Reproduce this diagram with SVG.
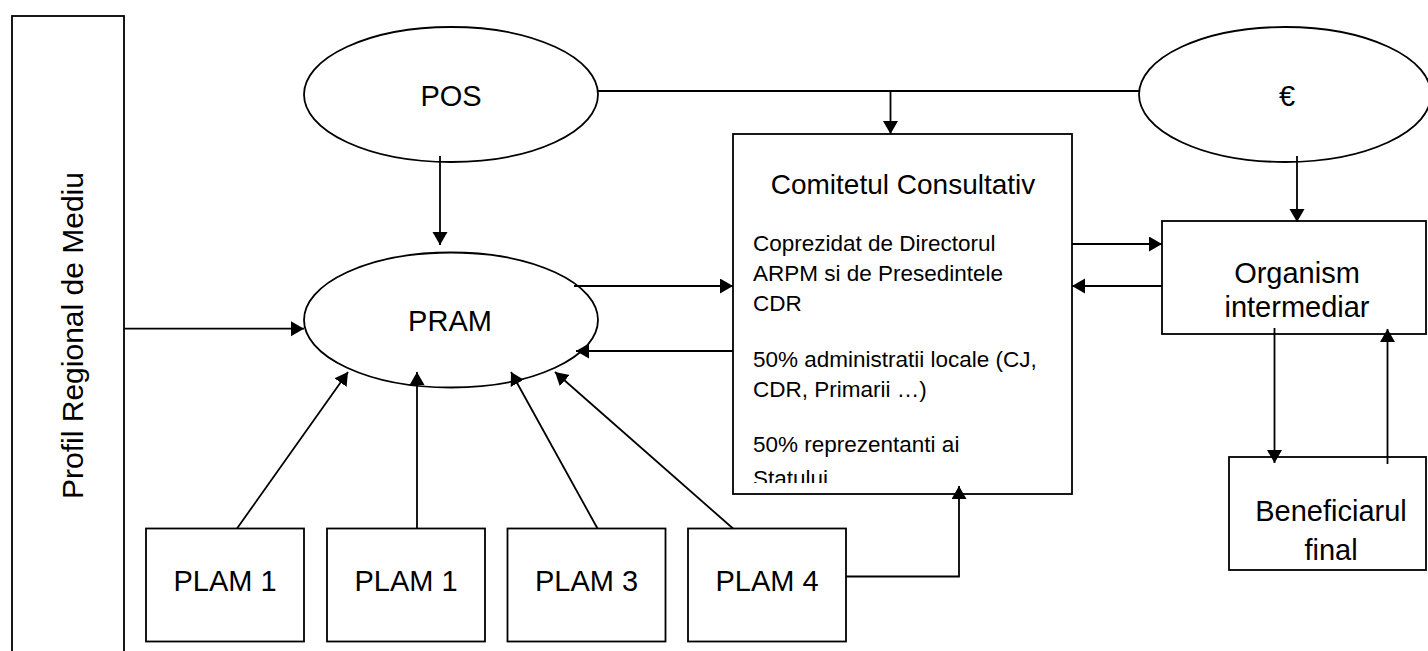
<svg xmlns="http://www.w3.org/2000/svg" width="1428" height="651" viewBox="0 0 1428 651">
<style>
.s{fill:#fff;stroke:#000;stroke-width:1.8}
.t{font-family:"Liberation Sans",Arial,sans-serif;font-size:29px;fill:#000;text-anchor:middle}
.m{font-family:"Liberation Sans",Arial,sans-serif;font-size:22.5px;fill:#000}
.c{fill:none;stroke:#000;stroke-width:1.8}
</style>
<defs>
<marker id="a" markerUnits="userSpaceOnUse" markerWidth="14" markerHeight="16" refX="13" refY="7.5" orient="auto">
<path d="M0,0 L13,7.5 L0,15 z" fill="#000"/>
</marker>
<clipPath id="cc"><rect x="733" y="134" width="339" height="349"/></clipPath>
</defs>
<rect width="1428" height="651" fill="#fff"/>

<g id="profil">
<rect class="s" x="12" y="16" width="112" height="660"/>
<text class="t" x="83" y="335.5" transform="rotate(-90 83 335.5)" style="font-size:30px">Profil Regional de Mediu</text>
</g>

<g id="pos">
<ellipse class="s" cx="451" cy="94.5" rx="147" ry="67.5"/>
<text class="t" x="451" y="106">POS</text>
</g>

<g id="euro">
<ellipse class="s" cx="1285" cy="94.5" rx="146" ry="67.5"/>
<text class="t" x="1287" y="106">€</text>
</g>

<g id="pram">
<ellipse class="s" cx="451" cy="320" rx="147" ry="67.5"/>
<text class="t" x="450" y="331">PRAM</text>
</g>

<g id="comitetul">
<rect class="s" x="733" y="134" width="339" height="360"/>
<text class="t" x="903" y="194" style="font-size:28px">Comitetul Consultativ</text>
<g clip-path="url(#cc)">
<text class="m" x="753" y="251">Coprezidat de Directorul</text>
<text class="m" x="753" y="281">ARPM si de Presedintele</text>
<text class="m" x="753" y="311">CDR</text>
<text class="m" x="753" y="367">50% administratii locale (CJ,</text>
<text class="m" x="753" y="397">CDR, Primarii …)</text>
<text class="m" x="753" y="452">50% reprezentanti ai</text>
<text class="m" x="753" y="485.5">Statului</text>
</g>
</g>

<g id="organism">
<rect class="s" x="1162" y="221" width="264" height="113"/>
<text class="t" x="1297" y="283">Organism</text>
<text class="t" x="1297" y="317">intermediar</text>
</g>

<g id="beneficiarul">
<rect class="s" x="1229" y="457" width="197" height="113"/>
<text class="t" x="1331" y="521">Beneficiarul</text>
<text class="t" x="1331" y="560">final</text>
</g>

<g id="plam1a">
<rect class="s" x="146" y="528.5" width="158" height="113"/>
<text class="t" x="225" y="591">PLAM 1</text>
</g>
<g id="plam1b">
<rect class="s" x="327" y="528.5" width="158" height="113"/>
<text class="t" x="406" y="591">PLAM 1</text>
</g>
<g id="plam3">
<rect class="s" x="507.5" y="528.5" width="158" height="113"/>
<text class="t" x="586.5" y="591">PLAM 3</text>
</g>
<g id="plam4">
<rect class="s" x="688" y="528.5" width="158" height="113"/>
<text class="t" x="767" y="591">PLAM 4</text>
</g>

<g id="connectors">
<line class="c" x1="124" y1="328.7" x2="304" y2="328.7" marker-end="url(#a)"/>
<line class="c" x1="440" y1="156" x2="440" y2="245" marker-end="url(#a)"/>
<line class="c" x1="598" y1="91" x2="1139" y2="91"/>
<line class="c" x1="890.5" y1="91" x2="890.5" y2="134" marker-end="url(#a)"/>
<line class="c" x1="1297" y1="156" x2="1297" y2="222" marker-end="url(#a)"/>
<line class="c" x1="574" y1="286" x2="733" y2="286" marker-end="url(#a)"/>
<line class="c" x1="733" y1="351" x2="576" y2="351" marker-end="url(#a)"/>
<line class="c" x1="1072" y1="244" x2="1162" y2="244" marker-end="url(#a)"/>
<line class="c" x1="1162" y1="286" x2="1072" y2="286" marker-end="url(#a)"/>
<line class="c" x1="1274.5" y1="328" x2="1274.5" y2="463" marker-end="url(#a)"/>
<line class="c" x1="1387.5" y1="464" x2="1387.5" y2="329" marker-end="url(#a)"/>
<line class="c" x1="237" y1="528.5" x2="348" y2="372" marker-end="url(#a)"/>
<line class="c" x1="417" y1="528.5" x2="417" y2="372" marker-end="url(#a)"/>
<line class="c" x1="597.5" y1="528.5" x2="511" y2="372" marker-end="url(#a)"/>
<line class="c" x1="733" y1="528.5" x2="555" y2="372" marker-end="url(#a)"/>
<polyline class="c" points="846,576.5 959,576.5 959,486" marker-end="url(#a)"/>
</g>
</svg>
